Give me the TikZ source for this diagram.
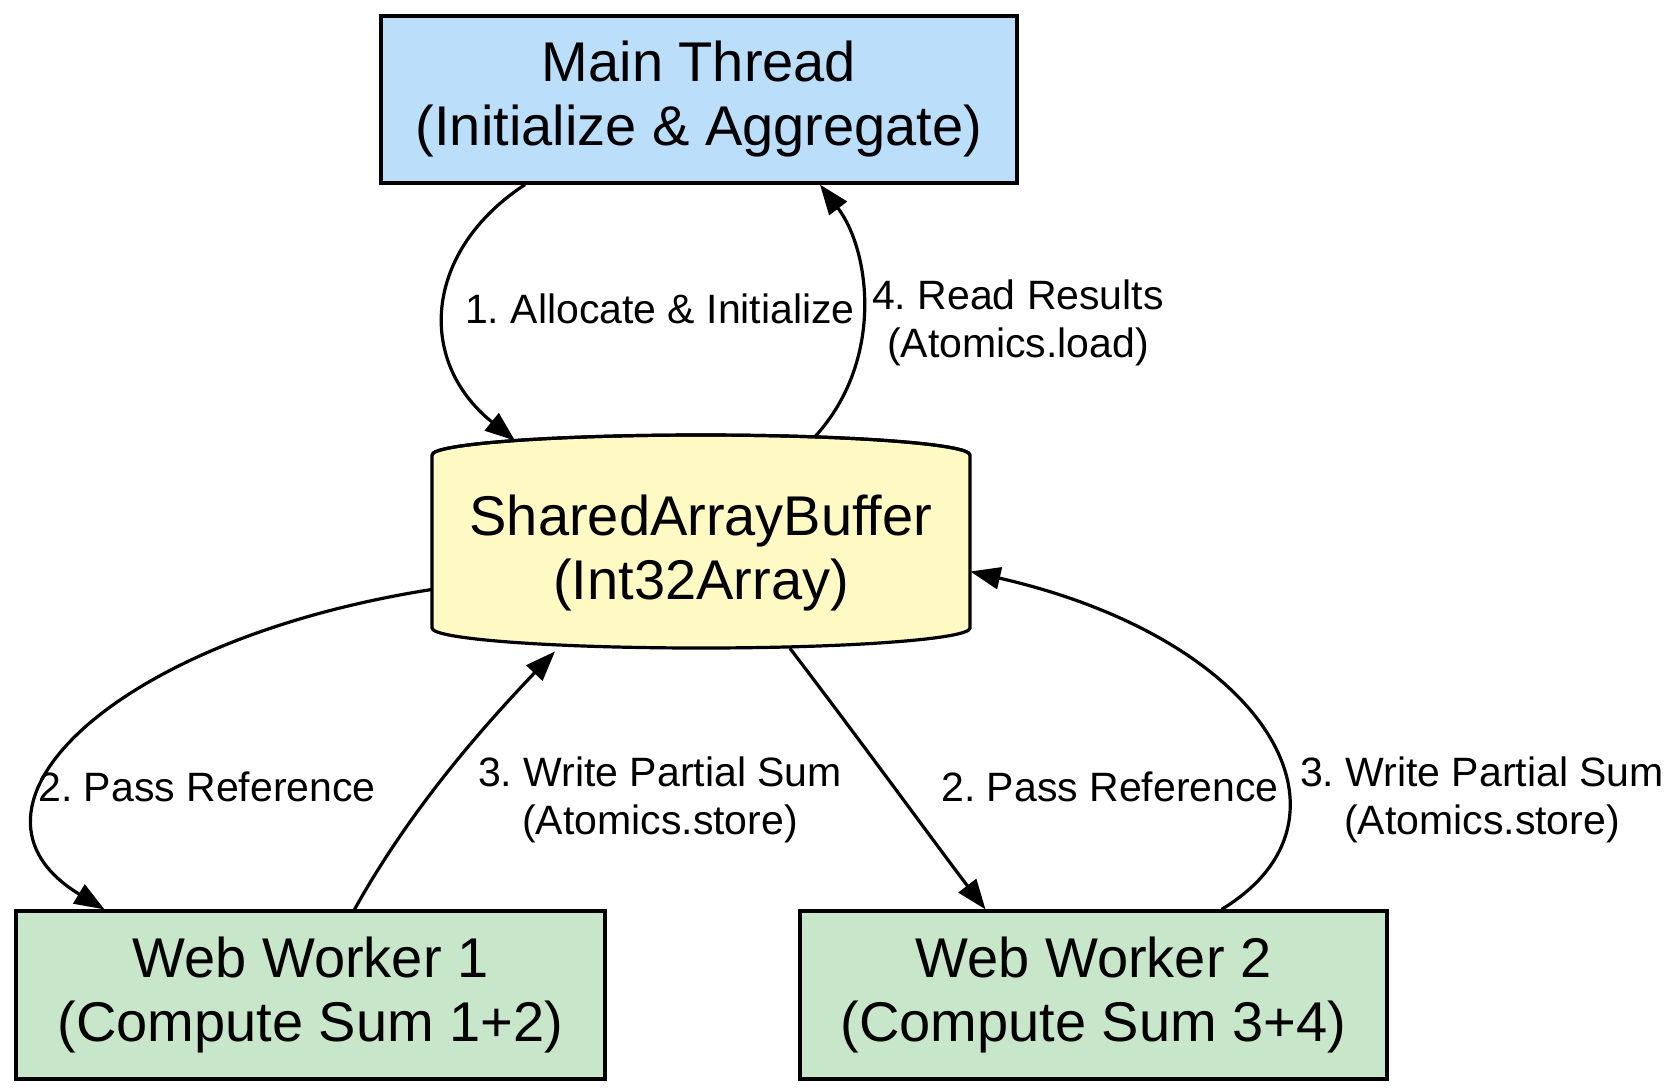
\documentclass[tikz,border=0pt]{standalone}
\usepackage{fontspec}
\setmainfont{Liberation Sans}
\usetikzlibrary{arrows.meta}
\definecolor{cblue}{HTML}{BBDEFB}
\definecolor{cyel}{HTML}{FFF9C4}
\definecolor{cgreen}{HTML}{C8E6C9}
\frenchspacing
\begin{document}
\begin{tikzpicture}[x=0.5pt,y=-0.5pt,
  box/.style={draw,line width=1.6pt,inner sep=0pt,align=center,font=\fontsize{28}{32}\selectfont},
  lab/.style={align=center,font=\fontsize{20.5}{24}\selectfont},
  edge/.style={line width=1.6pt,-{Triangle[length=15pt,width=11pt]}}]
\useasboundingbox (0,0) rectangle (1676,1089);
\node[box,fill=cblue,minimum width=318pt,minimum height=83.5pt] (main) at (699,99.5) {Main Thread\\(Initialize \& Aggregate)};
\node[box,fill=cgreen,minimum width=294.5pt,minimum height=84pt] (w1) at (310.5,995) {Web Worker 1\\(Compute Sum 1+2)};
\node[box,fill=cgreen,minimum width=293.5pt,minimum height=84pt] (w2) at (1093.5,995) {Web Worker 2\\(Compute Sum 3+4)};
% cylinder
\draw[line width=1.6pt,fill=cyel] (432,455) -- (432,628) arc[start angle=180,end angle=360,x radius=269,y radius=-20] -- (970,455) arc[start angle=0,end angle=180,x radius=269,y radius=-20] -- cycle;
\draw[line width=1.6pt] (432,455) arc[start angle=180,end angle=360,x radius=269,y radius=20];
\node[minimum width=269pt,minimum height=106.5pt,inner sep=0pt,align=center,font=\fontsize{28}{32}\selectfont] (cyl) at (701,541.5) {\\SharedArrayBuffer\\(Int32Array)};
% edges
\draw[edge] ([xshift=-87pt]main.south) .. controls (425,250) and (415,360) .. ([xshift=-93pt,yshift=-3pt]cyl.north);
\node[lab] (l1) at (660,309) {1. Allocate \& Initialize};
\draw[edge] ([xshift=57pt,yshift=-1pt]cyl.north) .. controls (885,360) and (870,250) .. ([xshift=60.5pt]main.south);
\node[lab] (l4) at (1018,323) {4. Read Results\\(Atomics.load)};
\draw[edge] ([yshift=-24pt]cyl.west) .. controls (110,640) and (-60,810) .. ([xshift=-103pt]w1.north);
\node[lab] (l2a) at (207,787) {2. Pass Reference};
\draw[edge] ([xshift=22pt]w1.north) .. controls (410,810) and (480,730) .. ([xshift=-73pt,yshift=-1.5pt]cyl.south);
\node[lab] (l3a) at (660,800) {3. Write Partial Sum\\(Atomics.store)};
\draw[edge] ([xshift=44.5pt]cyl.south) .. controls (860,740) and (940,850) .. ([xshift=-54pt]w2.north);
\node[lab] (l2b) at (1110,787) {2. Pass Reference};
\draw[edge] ([xshift=64pt]w2.north) .. controls (1370,820) and (1270,640) .. ([yshift=-15pt]cyl.east);
\node[lab] (l3b) at (1482,800) {3. Write Partial Sum\\(Atomics.store)};
\end{tikzpicture}
\end{document}
